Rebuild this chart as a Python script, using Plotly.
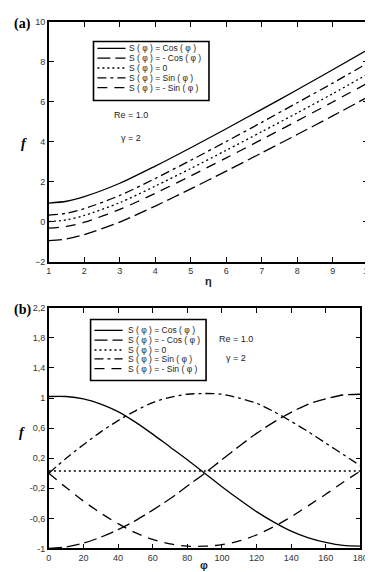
import plotly.graph_objects as go

# ---------------- Data ----------------
eta = [1, 1.5, 2, 3, 4, 5, 6, 7, 8, 9, 10]
a_cos = [0.93, 1.02, 1.25, 1.92, 2.78, 3.70, 4.65, 5.62, 6.60, 7.60, 8.62]
a_sin = [0.33, 0.42, 0.65, 1.31, 2.16, 3.07, 4.01, 4.97, 5.95, 6.93, 7.95]
a_zero = [0.00, 0.09, 0.31, 0.95, 1.78, 2.66, 3.57, 4.50, 5.44, 6.40, 7.40]
a_msin = [-0.33, -0.24, -0.03, 0.61, 1.42, 2.29, 3.19, 4.11, 5.04, 5.99, 6.95]
a_mcos = [-0.95, -0.87, -0.65, -0.02, 0.78, 1.64, 2.53, 3.44, 4.36, 5.29, 6.25]

phi = [0, 10, 20, 30, 40, 50, 60, 70, 80, 90, 100, 110, 120, 130, 140, 150, 160, 170, 180]
b_cos = [1.02, 1.02, 0.99, 0.92, 0.82, 0.68, 0.52, 0.35, 0.18, 0.0, -0.18, -0.35, -0.51, -0.65, -0.77, -0.86, -0.92, -0.96, -0.97]
b_mcos = [-1.0, -0.98, -0.93, -0.85, -0.75, -0.63, -0.49, -0.34, -0.17, 0.0, 0.18, 0.36, 0.53, 0.68, 0.81, 0.92, 0.99, 1.04, 1.05]
b_zero = [0.03] * 19
b_sin = [0.0, 0.2, 0.38, 0.55, 0.7, 0.83, 0.94, 1.01, 1.05, 1.06, 1.05, 1.0, 0.93, 0.82, 0.69, 0.55, 0.4, 0.25, 0.1]
b_msin = [0.0, -0.19, -0.37, -0.53, -0.67, -0.79, -0.88, -0.94, -0.97, -0.97, -0.95, -0.9, -0.82, -0.71, -0.58, -0.43, -0.28, -0.12, 0.03]

names = ["S ( φ ) = Cos ( φ )", "S ( φ ) = - Cos ( φ )", "S ( φ ) = 0",
         "S ( φ ) = Sin ( φ )", "S ( φ ) = - Sin ( φ )"]
a_ticks_x = [1, 2, 3, 4, 5, 6, 7, 8, 9, 10]
a_ticks_y = [-2, 0, 2, 4, 6, 8, 10]
b_ticks_x = [0, 20, 40, 60, 80, 100, 120, 140, 160, 180]
b_ticks_y = [-1, -0.6, -0.2, 0.2, 0.6, 1, 1.4, 1.8, 2.2]
b_ticks_y_text = ["-1", "-0,6", "-0,2", "0,2", "0,6", "1", "1,4", "1,8", "2,2"]

# ---------------- Styles ----------------
dashes = ["solid", "13px,5px", "2px,3px", "9px,4px,3px,4px", "10px,7px"]
LW = 1.3
W, H = 373, 572

fig = go.Figure()
a_series = [a_cos, a_mcos, a_zero, a_sin, a_msin]
b_series = [b_cos, b_mcos, b_zero, b_sin, b_msin]
for nm, ys, d in zip(names, a_series, dashes):
    fig.add_trace(go.Scatter(x=eta, y=ys, mode="lines", name=nm, showlegend=False,
                             line=dict(color="black", width=LW, dash=d, shape="spline", smoothing=0.8),
                             xaxis="x", yaxis="y"))
for nm, ys, d in zip(names, b_series, dashes):
    fig.add_trace(go.Scatter(x=phi, y=ys, mode="lines", name=nm, showlegend=False,
                             line=dict(color="black", width=LW, dash=d, shape="spline", smoothing=0.8),
                             xaxis="x2", yaxis="y2"))

tickfont = dict(family="Liberation Sans, Arial", size=9, color="#333")
common = dict(showline=True, linecolor="black", linewidth=1.5, mirror="ticks",
              ticks="inside", ticklen=5, tickwidth=1.2, tickcolor="black",
              showgrid=False, zeroline=False, tickfont=tickfont, ticklabeloverflow="allow")

def px(x):
    return x / W

def py(y):
    return 1 - y / H

fig.update_layout(
    width=W, height=H, margin=dict(l=0, r=0, t=0, b=0),
    paper_bgcolor="white", plot_bgcolor="white", showlegend=False,
    xaxis=dict(domain=[px(39), px(368)], range=[1, 10], tickvals=a_ticks_x, anchor="y", **common),
    yaxis=dict(domain=[py(253), py(9)], range=[-2, 10], tickvals=a_ticks_y, anchor="x", **common),
    xaxis2=dict(domain=[px(39), px(360)], range=[0, 180], tickvals=b_ticks_x, anchor="y2", **common),
    yaxis2=dict(domain=[py(545), py(300)], range=[-1, 2.2], tickvals=b_ticks_y,
                ticktext=b_ticks_y_text, anchor="x2", **common),
)

# ---------------- Legends (drawn as boxes) ----------------
def legend(x0, y0, x1, y1, rows_y, line_x0, line_x1, text_x):
    fig.add_shape(type="rect", xref="paper", yref="paper", x0=px(x0), x1=px(x1),
                  y0=py(y1), y1=py(y0), line=dict(color="black", width=1.6), fillcolor="white")
    for nm, d, ry in zip(names, dashes, rows_y):
        fig.add_shape(type="line", xref="paper", yref="paper", x0=px(line_x0), x1=px(line_x1),
                      y0=py(ry), y1=py(ry), line=dict(color="black", width=LW, dash=d))
        fig.add_annotation(x=px(text_x), y=py(ry), xref="paper", yref="paper", text=nm,
                           showarrow=False, xanchor="left", yanchor="middle",
                           font=dict(family="Liberation Sans, Arial", size=8.5, color="#222"))

legend(85, 29, 204, 89, [36, 46, 56, 66, 76], 89, 118, 120)
legend(82, 312, 201, 374, [323, 333, 343, 352, 362], 86, 115, 118)

txtfont = dict(family="Liberation Sans, Arial", size=9, color="#222")
ann = [
    (124, 104, "Re = 1.0", txtfont),
    (124, 127, "γ = 2", txtfont),
    (232, 332, "Re = 1.0", txtfont),
    (232, 351, "γ = 2", txtfont),
]
for x, y, t, f in ann:
    fig.add_annotation(x=px(x), y=py(y), xref="paper", yref="paper", text=t, showarrow=False,
                       xanchor="center", yanchor="middle", font=f)

serif_b = dict(family="Liberation Serif, Times New Roman", size=14, color="black")
for x, y, t in [(12, 11, "<b>(a)</b>"), (12, 302, "<b>(b)</b>"),
                (13, 133, "<b><i>f</i></b>"), (11, 427, "<b><i>f</i></b>")]:
    fig.add_annotation(x=px(x), y=py(y), xref="paper", yref="paper", text=t, showarrow=False,
                       xanchor="center", yanchor="middle", font=serif_b)
for x, y, t in [(203, 273, "<b>η</b>"), (199, 562, "<b>φ</b>")]:
    fig.add_annotation(x=px(x), y=py(y), xref="paper", yref="paper", text=t, showarrow=False,
                       xanchor="center", yanchor="middle",
                       font=dict(family="Liberation Sans, Arial", size=11, color="#222"))

fig.write_html("out.html")
